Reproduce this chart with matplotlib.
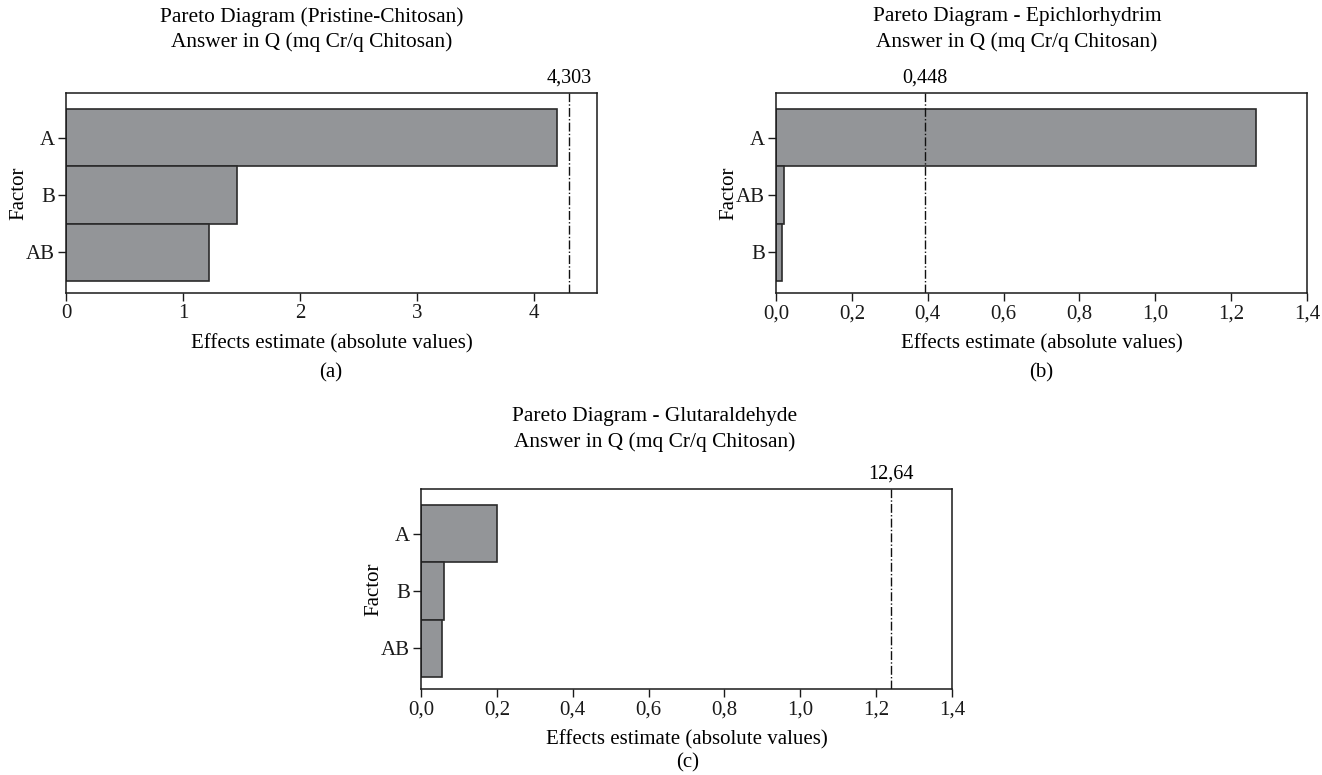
import matplotlib.pyplot as plt
from matplotlib.ticker import FuncFormatter

plt.rcParams['font.family'] = ['Liberation Serif', 'DejaVu Serif']
plt.rcParams['font.size'] = 15

# panel (a) Pristine-Chitosan
factors_a = ["A", "B", "AB"]
effects_a = [4.2, 1.46, 1.22]
limit_a = 4.30
limit_a_label = "4,303"

# panel (b) Epichlorhydrim
factors_b = ["A", "AB", "B"]
effects_b = [1.265, 0.021, 0.016]
limit_b = 0.393
limit_b_label = "0,448"

# panel (c) Glutaraldehyde
factors_c = ["A", "B", "AB"]
effects_c = [0.2015, 0.061, 0.056]
limit_c = 1.239
limit_c_label = "12,64"

titles = [
    "Pareto Diagram (Pristine-Chitosan)\nAnswer in Q (mq Cr/q Chitosan)",
    "Pareto Diagram - Epichlorhydrim\nAnswer in Q (mq Cr/q Chitosan)",
    "Pareto Diagram - Glutaraldehyde\nAnswer in Q (mq Cr/q Chitosan)",
]
captions = ["(a)", "(b)", "(c)"]

fig = plt.figure(figsize=(13.22, 7.75), dpi=100)
W, H = 1322, 775

def make_axes(left, top):
    return fig.add_axes([left / W, 1 - (top + 200) / H, 531 / W, 200 / H])

comma = FuncFormatter(lambda v, p: f"{v:.1f}".replace(".", ","))

def pareto(ax, factors, effects, limit, label, xmax, ticks, fmt):
    pos = range(len(factors))
    ax.barh(pos, effects, height=1.0, color="#939598", edgecolor="#2b2b2b", linewidth=1.2)
    ax.axvline(limit, color="#111111", linestyle="-.", linewidth=1.0)
    ax.set_ylim(len(factors) - 1 + 0.71, -0.78)
    ax.set_xlim(0, xmax)
    ax.set_yticks(list(pos))
    ax.set_yticklabels(factors)
    ax.set_xticks(ticks)
    if fmt is not None:
        ax.xaxis.set_major_formatter(fmt)
    ax.tick_params(direction="out", length=6, width=1, pad=2, labelsize=15, colors="#1a1a1a")
    for s in ax.spines.values():
        s.set_linewidth(1.1)
        s.set_color("#1a1a1a")
    ax.set_xlabel("Effects estimate (absolute values)", labelpad=8)
    ax.set_ylabel("Factor")
    ax.yaxis.set_label_coords(-38 / 531, 0.5)
    ax.annotate(label, xy=(limit, 1), xycoords=("data", "axes fraction"),
                xytext=(0, 11), textcoords="offset points",
                ha="center", va="center", fontsize=14.5)

ax_a = make_axes(66, 93)
pareto(ax_a, factors_a, effects_a, limit_a, limit_a_label, 4.54, [0, 1, 2, 3, 4], None)

ax_b = make_axes(776, 93)
pareto(ax_b, factors_b, effects_b, limit_b, limit_b_label, 1.4,
       [0, 0.2, 0.4, 0.6, 0.8, 1.0, 1.2, 1.4], comma)

ax_c = make_axes(421, 489)
pareto(ax_c, factors_c, effects_c, limit_c, limit_c_label, 1.4,
       [0, 0.2, 0.4, 0.6, 0.8, 1.0, 1.2, 1.4], comma)

# titles and captions placed in figure pixels
title_pos = [(312, 29.5), (1017, 29.5), (655, 429.5)]
caption_pos = [(331, 373), (1041, 373), (688, 763)]
for t, (x, y) in zip(titles, title_pos):
    fig.text(x / W, 1 - y / H, t, ha="center", va="center", fontsize=15.4,
             linespacing=1.4)
for c, (x, y) in zip(captions, caption_pos):
    fig.text(x / W, 1 - y / H, c, ha="center", va="center", fontsize=15)

fig.savefig("out.png", dpi=100)
